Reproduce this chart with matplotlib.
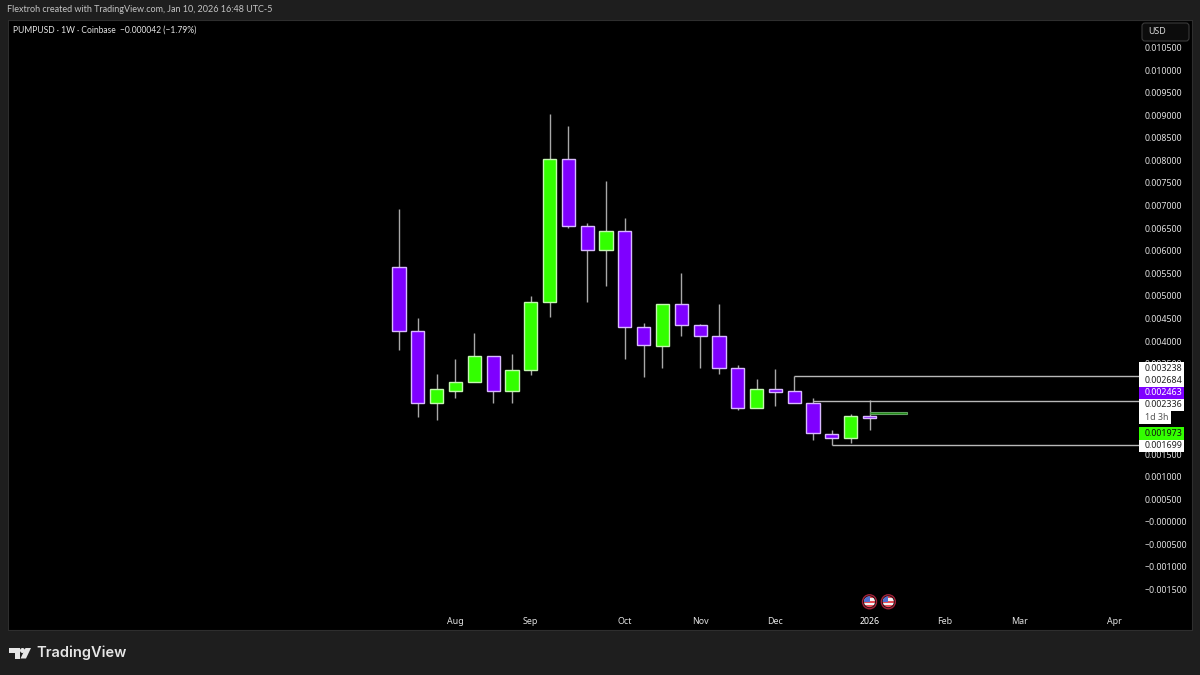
import numpy as np
import matplotlib
matplotlib.use('Agg')
import matplotlib.pyplot as plt
from matplotlib.patches import Rectangle, Circle, Polygon, FancyBboxPatch

plt.rcParams['font.family'] = ['Noto Sans', 'DejaVu Sans']

# weekly candles
opens = [0.00563, 0.00423, 0.00262, 0.00290, 0.00310, 0.00366, 0.00290, 0.00335, 0.00486, 0.00803,
         0.00654, 0.00601, 0.00643, 0.00432, 0.00390, 0.00481, 0.00435, 0.00412, 0.00341, 0.00251,
         0.00295, 0.00290, 0.00264, 0.00195, 0.00186, 0.002346]
closes = [0.00423, 0.00262, 0.00293, 0.00310, 0.00366, 0.00290, 0.00335, 0.00486, 0.00803, 0.00654,
          0.00601, 0.00643, 0.00432, 0.00392, 0.00481, 0.00435, 0.00412, 0.00341, 0.00251, 0.00293,
          0.00288, 0.00264, 0.00197, 0.00186, 0.00235, 0.002304]
highs = [0.00692, 0.00452, 0.00328, 0.00361, 0.00417, 0.00368, 0.00372, 0.00499, 0.00902, 0.00876,
         0.00661, 0.00754, 0.00672, 0.00439, 0.00481, 0.00550, 0.00437, 0.00483, 0.00346, 0.00317,
         0.00339, 0.003238, 0.00275, 0.00204, 0.00239, 0.00270]
lows = [0.00381, 0.00231, 0.00226, 0.00275, 0.00310, 0.00264, 0.00262, 0.00326, 0.00454, 0.00650,
        0.00486, 0.00521, 0.00361, 0.00321, 0.00341, 0.00412, 0.00341, 0.00328, 0.00248, 0.00251,
        0.00257, 0.00262, 0.00180, 0.001699, 0.00175, 0.00204]

# 0.0020, 0.0025 and 0.0030 sit fully behind the price tags, so they are left out
price_ticks = [-0.0015, -0.0010, -0.0005, 0.0, 0.0005, 0.0010, 0.0015, 0.0035,
               0.0040, 0.0045, 0.0050, 0.0055, 0.0060, 0.0065, 0.0070, 0.0075, 0.0080, 0.0085, 0.0090,
               0.0095, 0.0100, 0.0105]
price_labels = ['\u22120.001500', '\u22120.001000', '\u22120.000500', '\u22120.000000', '0.000500', '0.001000',
                '0.001500', '0.003500', '0.004000', '0.004500',
                '0.005000', '0.005500', '0.006000', '0.006500', '0.007000', '0.007500', '0.008000',
                '0.008500', '0.009000', '0.009500', '0.010000', '0.010500']

month_pos = [3, 7, 12, 16, 20, 25, 29, 33, 38]
month_names = ['Aug', 'Sep', 'Oct', 'Nov', 'Dec', '2026', 'Feb', 'Mar', 'Apr']

level_start = [21, 22, 23]
level_price = [0.003238, 0.002684, 0.001699]

tag_texts = ['0.003238', '0.002684', '0.002463', '0.002336', '1d 3h', '0.001973', '0.001699']
tag_tops = [362, 374.5, 387, 398.5, 411, 427, 439.5]
tag_bottoms = [374.5, 387, 398.5, 411, 423.5, 439.5, 452]
tag_rights = [1184, 1184, 1184, 1184, 1171, 1184, 1184]
tag_faces = ['#ffffff', '#ffffff', '#7f00ff', '#ffffff', '#ffffff', '#33ff00', '#ffffff']
tag_colors = ['#222222', '#222222', '#ffffff', '#222222', '#555555', '#111111', '#222222']

event_pos = [25, 26]
event_price = -0.00177

purple = '#7f00ff'
green = '#33ff00'
bg = '#1e1e1e'
tick_size = 6.4

fig = plt.figure(figsize=(12, 6.75), dpi=100, facecolor=bg)
ax = fig.add_axes([8 / 1200, 1 - 630 / 675, 1184 / 1200, 610 / 675], facecolor='black')

x = np.arange(len(opens))
opens = np.array(opens)
closes = np.array(closes)
up = closes >= opens
faces = [green if u else purple for u in up]
edges = ['#c4f7b0' if u else '#d8b8ff' for u in up]

ax.vlines(x, lows, highs, color='#a8a8a8', lw=1.0, zorder=2)
ax.bar(x, closes - opens, bottom=opens, width=0.7, color=faces, edgecolor=edges, lw=1.0, zorder=3)

# long position box after the last candle
ax.add_patch(Rectangle((25, 0.00238), 2, 0.00004, facecolor='#1c8a10', edgecolor='#5f9f5f', lw=0.8, zorder=3))

for s, p in zip(level_start, level_price):
    ax.hlines(p, s, 39.3, color='#b8b8b8', lw=1.0, zorder=2)

ax.set_xlim((8 - 399) / 18.82, (1192 - 399) / 18.82)
ax.set_ylim(-0.002395, 0.011107)

ax.yaxis.tick_right()
ax.set_yticks(price_ticks)
ax.set_yticklabels(price_labels)
ax.tick_params(axis='y', length=0, pad=-34, labelsize=tick_size, labelcolor='#e0e0e0')
ax.set_xticks(month_pos)
ax.set_xticklabels(month_names)
ax.tick_params(axis='x', length=0, pad=-9.5, labelsize=tick_size, labelcolor='#e0e0e0')
for lab in ax.get_xticklabels():
    if lab.get_text() == '2026':
        lab.set_fontweight('bold')
        lab.set_color('#ffffff')
for s in ax.spines.values():
    s.set_color('#2e2e2e')
    s.set_linewidth(0.8)

# overlay in pixel coordinates for the TradingView chrome
px = fig.add_axes([0, 0, 1, 1], facecolor='none')
px.set_xlim(0, 1200)
px.set_ylim(675, 0)
px.axis('off')

px.text(7, 10, 'Flextroh created with TradingView.com, Jan 10, 2026 16:48 UTC-5', color='#c4c4c4',
        fontsize=6.45, family='Lato', va='center')
px.text(13, 30.5, 'PUMPUSD \u00b7 1W \u00b7 Coinbase  \u22120.000042 (\u22121.79%)', color='#e4e4e4',
        fontsize=6.15, family='Lato', va='center')

px.add_patch(FancyBboxPatch((1142, 23), 47, 18, boxstyle='round,pad=0,rounding_size=3',
                            facecolor='#0c0c0c', edgecolor='#3a3a3a', lw=0.8))
px.text(1148, 32, 'USD', color='#d8d8d8', fontsize=tick_size, va='center')

for t, top, bot, r, f, c in zip(tag_texts, tag_tops, tag_bottoms, tag_rights, tag_faces, tag_colors):
    px.add_patch(Rectangle((1139, top), r - 1139, bot - top, facecolor=f, edgecolor='none'))
    px.text(1145, (top + bot) / 2, t, color=c, fontsize=tick_size, va='center')

# flag markers for the events
for e in event_pos:
    cx, cy = ax.transData.transform((e, event_price))
    cy = 675 - cy
    ring = Circle((cx, cy), 7, facecolor='#101010', edgecolor='#a02038', lw=1.0)
    px.add_patch(ring)
    clip = Circle((cx, cy), 5.5, transform=px.transData)
    for i in range(5):
        st = Rectangle((cx - 6, cy - 6 + i * 2.4), 12, 2.4, facecolor='#e8505a' if i % 2 == 0 else '#f2f2f2',
                       edgecolor='none')
        px.add_patch(st)
        st.set_clip_path(clip)
    canton = Rectangle((cx - 6, cy - 6), 6, 6, facecolor='#4f6fd0', edgecolor='none')
    px.add_patch(canton)
    canton.set_clip_path(clip)

# TradingView logo
logo = '#e6e6e6'
px.add_patch(Polygon([(8.5, 648), (19.5, 648), (19.5, 658.5), (14.5, 658.5), (14.5, 653), (8.5, 653)],
                     facecolor=logo, edgecolor='none'))
px.add_patch(Circle((22.5, 650.5), 2.5, facecolor=logo, edgecolor='none'))
px.add_patch(Polygon([(25.5, 648), (31, 648), (26, 658.5), (20.5, 658.5)], facecolor=logo, edgecolor='none'))
px.text(36, 653, 'TradingView', color=logo, fontsize=10.5, fontweight='semibold', family='Inter', va='center')

fig.savefig('out.png', dpi=100, facecolor=bg)
